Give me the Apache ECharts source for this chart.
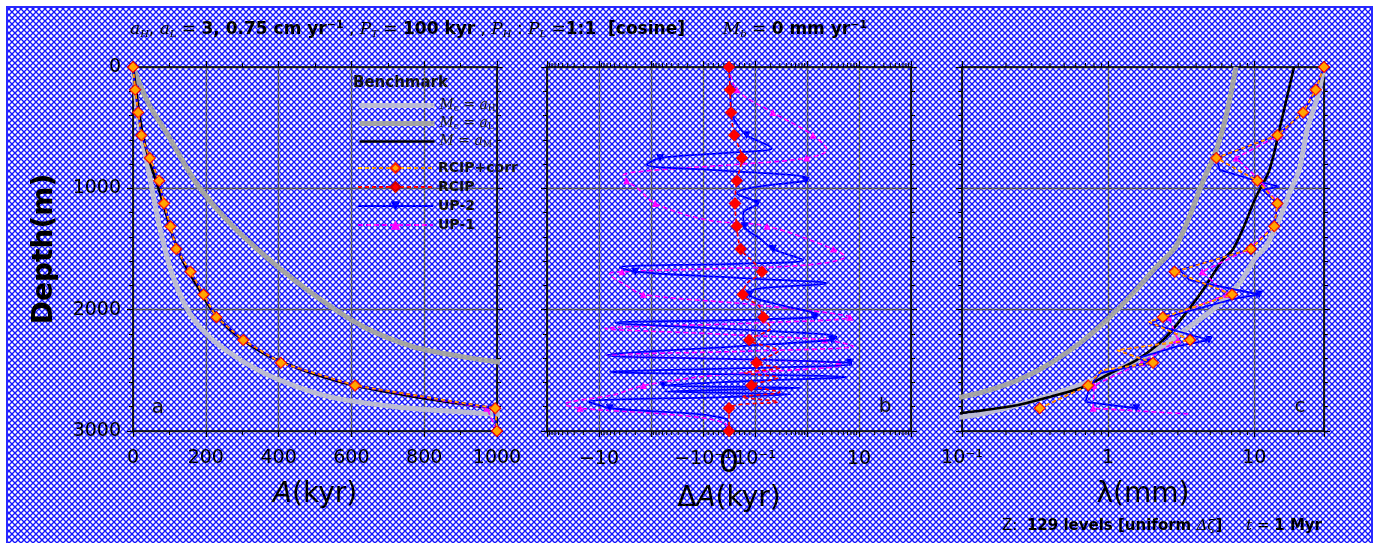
<!DOCTYPE html>
<html><head><meta charset="utf-8">
<script src="https://cdn.jsdelivr.net/npm/echarts@6/dist/echarts.min.js"></script>
<style>html,body{margin:0;padding:0;background:#fff}#c{width:1379px;height:543px}</style>
</head><body><div id="c"></div>
<script>
// ---------------- DATA ----------------
// Panel a: age A (kyr) vs depth (m)
const depthA = [0,187.5,375,562.5,750,937.5,1125,1312.5,1500,1687.5,1875,2062.5,2250,2437.5,2625,2812.5,3000];
const ageRcipCorr = [0,6,14,23,46,72,85,103,119,158,194,229,303,406,610,995,1000];
const ageRcip     = [0,6,14,23,46,72,85,103,119,158,194,229,303,406,610,995,1000];
const ageUp2      = [0,6,14,23,46,72,85,103,119,158,194,229,303,406,610,990,1000];
const ageUp1      = [0,6,14,23,46,72,85,103,119,158,194,229,303,406,608,972,1000];
const benchDepthAH = [0,490,765,1316,1728,2031,2251,2444,2582,2719,2802,2843,2862,2880];
const benchAgeAH   = [0,18,37,73,110,156,220,312,404,541,725,908,1000,1100];
const benchDepthAL = [0,297,572,958,1288,1591,1894,2141,2306,2389,2430,2460];
const benchAgeAL   = [0,42,98,174,266,376,505,633,771,908,1000,1100];
const benchDepthAM = [0,200,400,600,800,1000,1200,1400,1600,1800,2000,2200,2400,2600,2700,2812.5,2850];
const benchAgeAM   = [0,9,18,30,48,70,90,110,137,175,216,280,385,575,740,990,1100];

// Panel b: age error dA (kyr) vs depth (m), symlog axis
const rcipDeltaDepth = [0,187.5,375,562.5,750,937.5,1125,1312.5,1500,1600,1687.5,1780,1875,1970,2062.5,2150,2250,2340,2437.5,2480,2520,2560,2625,2680,2720,2760,2812.5,3000];
const rcipDelta      = [0,0.004,0.008,0.02,0.05,0.03,0.023,0.03,0.045,0.09,0.136,0.07,0.053,0.12,0.145,0.2,0.078,0.28,0.107,0.3,0.06,0.28,0.086,0.3,0.05,0.28,0,0];
const up2DeltaDepth = [0,187.5,375,470,562.5,669,700,750,806,850,915,937.5,990,1040,1125,1205,1312.5,1420,1500,1591,1620,1650,1687.5,1740,1783,1830,1875,1960,2045,2062.5,2085,2108,2165,2224,2250,2300,2375,2410,2437.5,2450,2480,2513,2535,2554,2590,2625,2645,2675,2697,2720,2760,2800,2812.5,2900,3000];
const up2Delta      = [0,0.005,0.01,0.03,0.068,0.21,0.05,-0.67,-1.2,-0.05,1.0,0.95,0.1,0.03,0.11,0.055,0.06,0.13,0.22,0.85,0.05,-4,-2,0.05,2.4,0.1,0.08,0.3,1.55,1.4,0.05,-4.9,0.05,3.7,3.0,0.05,-7,0.1,6.7,7.2,0.1,-6.2,0.1,5.8,0.05,-0.58,0.75,-0.55,0.5,-0.02,-16,-8,-6.2,-0.01,0];
const up1DeltaDepth = [0,187.5,375,562.5,683,750,800,860,895,937.5,1000,1125,1260,1312.5,1500,1563,1632,1665,1687.5,1705,1800,1875,1960,2062.5,2110,2155,2200,2250,2301,2340,2375,2410,2437.5,2455,2540,2625,2700,2780,2812.5,2870,2930,3000];
const up1Delta      = [0,0.03,0.22,1.3,2.4,0.98,0.05,-1.5,-3.4,-2.95,-1.8,-0.83,-0.086,0.17,3.2,5.4,0.98,-0.1,-3.6,-6.2,-3,-1.4,0.1,6.7,0.1,-7.6,-0.05,2.2,7.8,0.1,-7.1,0.05,4.0,4.6,-0.05,-1.4,-5,-45,-23,-0.3,-0.02,0];

// Panel c: layer thickness lambda (mm) vs depth (m), log axis
const benchLamDepthAM = [0,408,848,1068,1343,1508,1591,1839,2059,2251,2416,2526,2637,2719,2788,2829,2851,2900];
const benchLamAM      = [18.7,15.6,12.7,10.3,8.3,7.1,6.08,4.44,3.25,2.37,1.56,1.03,0.68,0.40,0.238,0.141,0.1,0.05];
const benchLamDepthAH = [0,250,517,848,1040,1260,1481,1563,1783,1976,2141,2334,2499,2609,2747,2857,2884,2950];
const benchLamAH      = [30,27,23,20.3,17.4,14.8,12,10.3,7.9,5.5,3.6,2.14,1.14,0.68,0.31,0.14,0.1,0.04];
const benchLamDepthAL = [0,408,683,958,1233,1481,1646,1866,2059,2251,2444,2582,2678,2719,2800];
const benchLamAL      = [7.5,6.4,5.5,4.4,3.6,2.9,2.14,1.48,1.03,0.68,0.40,0.24,0.14,0.1,0.05];
const lamCorrDepth = [0,187.5,375,562.5,750,937.5,1125,1312.5,1500,1687.5,1875,2062.5,2100,2250,2334,2437.5,2500,2625,2812.5];
const lamRcipCorr  = [30,26.3,21.6,14.4,5.5,10.5,14.4,13.7,9.5,2.85,7.05,2.37,1.9,3.64,1.15,2.03,0.9,0.73,0.34];
const lamRcip      = [30,26.3,21.6,14.4,5.5,10.5,14.4,13.7,9.5,2.85,7.05,2.37,1.9,3.64,1.15,2.03,0.9,0.73,0.34];
const lamUp2Depth = [0,187.5,375,562.5,680,750,848,937.5,985,1013,1125,1312.5,1500,1673,1756,1875,1907,2062.5,2113,2250,2300,2400,2437.5,2526,2625,2760,2812.5];
const lamUp2      = [30,26.3,21.6,14.4,8,5.5,5.8,10.3,14.8,11.4,14.4,13.7,9.5,3.08,3.6,10.8,7.5,2.5,1.92,4.9,3.0,1.6,1.9,0.88,0.75,0.7,1.56];
const lamUp1Depth = [0,187.5,375,562.5,750,937.5,1125,1312.5,1500,1687.5,1875,2062.5,2250,2437.5,2625,2812.5,2860];
const lamUp1      = [30,26,21.5,14.8,7.5,11,14.6,13.5,9.2,4.4,6.5,2.6,3.0,1.7,0.8,0.79,3.6];

const xTicksA = [0,200,400,600,800,1000];
const yTicks = [0,1000,2000,3000];
const symlogLabels = {1:'\u221210', 3:'\u221210\u207B\u00B9', 4:'10\u207B\u00B9', 6:'10'};
const logLabels = {'-1':'10\u207B\u00B9', '0':'1', '1':'10'};
const MARKER_STEP = 187.5;

// ---------------- HELPERS ----------------
const FONT = 'DejaVu Sans';
const LIN = 0.1; // symlog linear threshold
function symlog(v){ const a=Math.abs(v); const t = a<=LIN ? a/LIN*0.5 : 0.5+Math.log10(a/LIN); return 3.5 + Math.sign(v)*t; }
function zip(xs, ys, fx){ return xs.map((x,i)=>[fx?fx(x):x, ys[i]]); }
function isMarker(d){ const q=d/MARKER_STEP; return Math.abs(q-Math.round(q))<1e-6; }
const plain = (v)=>String(Math.round(v));

const STY = {
  'RCIP+corr': {symbol:'diamond', size:10, fill:'#ffa500', border:'#ff2000', bw:1, color:'#ffa500', w:1.6, dash:[4,3], z:6},
  'RCIP':      {symbol:'diamond', size:12, fill:'#ff0000', border:'#cc0000', bw:0.5, color:'#ff0000', w:1.6, dash:[4,3], z:5},
  'UP-2':      {symbol:'triangle', rot:180, size:8, fill:'#0000ff', border:'#0000ff', bw:0, color:'#0000ff', w:1.8, dash:'solid', z:4},
  'UP-1':      {symbol:'triangle', size:7, fill:'#ff00ff', border:'#ff00ff', bw:0, color:'#ff00ff', w:1.6, dash:[5,3], z:3}
};
function methodSeries(name, xi, yi, data){
  const s = STY[name];
  return {type:'line', name, xAxisIndex:xi, yAxisIndex:yi, data, symbol:s.symbol, symbolRotate:s.rot||0,
    showSymbol:true, showAllSymbol:true, symbolSize:(v)=>isMarker(v[1])?s.size:0,
    itemStyle:{color:s.fill, borderColor:s.border, borderWidth:s.bw},
    lineStyle:{color:s.color, width:s.w, type:s.dash}, z:s.z, clip:true, animation:false, silent:true};
}
const BENCH = {
  aH:{color:'rgba(190,190,208,0.95)', w:5},
  aL:{color:'#a3a3a3', w:5},
  aM:{color:'#000000', w:2.6}
};
function benchSeries(name, xi, yi, data){
  const b = BENCH[name];
  return {type:'line', name, xAxisIndex:xi, yAxisIndex:yi, data, symbol:'none', smooth:0.3,
    lineStyle:{color:b.color, width:b.w}, itemStyle:{color:b.color}, z:2, clip:true, animation:false, silent:true};
}
function tickSeries(xi, yi, values, len){
  return {type:'custom', xAxisIndex:xi, yAxisIndex:yi, data: values.map(v=>[v,0]), silent:true, clip:false, z:1,
    renderItem:(params, api)=>{
      const v = api.value(0);
      const p0 = api.coord([v,0]);
      const p1 = api.coord([v,3000]);
      return {type:'group', children:[
        {type:'line', shape:{x1:p0[0], y1:p0[1], x2:p0[0], y2:p0[1]-len}, style:{stroke:'#000', lineWidth:1}},
        {type:'line', shape:{x1:p1[0], y1:p1[1], x2:p1[0], y2:p1[1]+len}, style:{stroke:'#000', lineWidth:1}}
      ]};
    }};
}
// minor tick positions
const symMinor = [];
for (const sgn of [-1,1]) {
  for (let j=1;j<5;j++) symMinor.push(3.5 + sgn*j*0.1);
  for (let d=0; d<3; d++) for (let k=2;k<=9;k++) symMinor.push(3.5 + sgn*(0.5+d+Math.log10(k)));
}
const logMinor = [];
for (let d=-1; d<=1; d++) for (let k=2;k<=9;k++){ const v=k*Math.pow(10,d); if (v<30) logMinor.push(v); }

// axes
const axisLine = {show:true, onZero:false, lineStyle:{color:'#000', width:1.6}};
const majorTick = {show:true, inside:false, length:6, lineStyle:{color:'#000', width:1.2}};
const splitLine = {show:true, lineStyle:{color:'#5a5a5a', width:1.3}};
const labelStyle = {fontSize:19, color:'#000', fontFamily:FONT};
const nameStyle = {fontSize:28, color:'#000', fontFamily:FONT, rich:{i:{fontSize:28, fontStyle:'italic', fontFamily:'DejaVu Sans', color:'#000'}}};

function yPair(gi, withName){
  const base = {type:'value', gridIndex:gi, min:yTicks[0], max:yTicks[yTicks.length-1], interval:yTicks[1]-yTicks[0], inverse:true,
    axisLine, axisTick:majorTick, minorTick:{show:true, splitNumber:5, length:4, lineStyle:{color:'#000', width:1}}};
  const left = Object.assign({}, base, {position:'left', splitLine,
    axisLabel:Object.assign({show:withName, margin:12, formatter:plain}, labelStyle)});
  if (withName) Object.assign(left, {name:'Depth(m)', nameLocation:'middle', nameGap:74, nameRotate:90,
    nameTextStyle:{fontSize:28, fontWeight:'bold', color:'#000', fontFamily:FONT}});
  const right = Object.assign({}, base, {position:'right', splitLine:{show:false}, axisLabel:{show:false}});
  return [left, right];
}

const xAxes = [
  // panel a bottom
  {type:'value', gridIndex:0, position:'bottom', min:xTicksA[0], max:xTicksA[xTicksA.length-1], interval:xTicksA[1]-xTicksA[0],
   axisLine, axisTick:majorTick, minorTick:{show:true, splitNumber:2, length:4, lineStyle:{color:'#000', width:1}},
   splitLine, axisLabel:Object.assign({margin:18, formatter:plain}, labelStyle),
   name:'{i|A}(kyr)', nameLocation:'middle', nameGap:50, nameTextStyle:nameStyle},
  // panel a top
  {type:'value', gridIndex:0, position:'top', min:xTicksA[0], max:xTicksA[xTicksA.length-1], interval:xTicksA[1]-xTicksA[0],
   axisLine, axisTick:majorTick, minorTick:{show:true, splitNumber:2, length:4, lineStyle:{color:'#000', width:1}},
   splitLine:{show:false}, axisLabel:{show:false}},
  // panel b bottom (symlog, units shifted by 3.5)
  {type:'value', gridIndex:1, position:'bottom', min:0, max:7, interval:1,
   axisLine, axisTick:majorTick, splitLine,
   axisLabel:Object.assign({margin:19, formatter:(v)=>symlogLabels[Math.round(v)]||''}, labelStyle),
   name:'\u0394{i|A}(kyr)', nameLocation:'middle', nameGap:54, nameTextStyle:nameStyle},
  // panel b top
  {type:'value', gridIndex:1, position:'top', min:0, max:7, interval:1,
   axisLine, axisTick:majorTick, splitLine:{show:false}, axisLabel:{show:false}},
  // panel b zero label
  {type:'value', gridIndex:1, position:'bottom', min:0, max:7, interval:3.5,
   axisLine:{show:false, onZero:false}, axisTick:{show:false}, splitLine:{show:false},
   axisLabel:{margin:17, fontSize:32, color:'#000', fontFamily:FONT, formatter:(v)=>Math.abs(v-3.5)<1e-6?'0':''}},
  // panel c bottom (log)
  {type:'log', logBase:10, gridIndex:2, position:'bottom', min:0.1, max:30,
   axisLine, axisTick:majorTick, splitLine,
   axisLabel:Object.assign({margin:18, formatter:(v)=>{const e=Math.log10(v); const r=Math.round(e); return Math.abs(e-r)<1e-6 ? (logLabels[String(r)]||'') : '';}}, labelStyle),
   name:'\u03BB(mm)', nameLocation:'middle', nameGap:50, nameTextStyle:nameStyle},
  // panel c top
  {type:'log', logBase:10, gridIndex:2, position:'top', min:0.1, max:30,
   axisLine, axisTick:majorTick, splitLine:{show:false}, axisLabel:{show:false}}
];
const yAxes = [].concat(yPair(0,true), yPair(1,false), yPair(2,false));

// ---------------- SERIES ----------------
const series = [
  // panel a
  benchSeries('aH', 0, 0, zip(benchAgeAH, benchDepthAH)),
  benchSeries('aL', 0, 0, zip(benchAgeAL, benchDepthAL)),
  benchSeries('aM', 0, 0, zip(benchAgeAM, benchDepthAM)),
  methodSeries('UP-1', 0, 0, zip(ageUp1, depthA)),
  methodSeries('UP-2', 0, 0, zip(ageUp2, depthA)),
  methodSeries('RCIP', 0, 0, zip(ageRcip, depthA)),
  methodSeries('RCIP+corr', 0, 0, zip(ageRcipCorr, depthA)),
  // panel b
  Object.assign(methodSeries('UP-1', 2, 2, zip(up1Delta, up1DeltaDepth, symlog)), {smooth:0.35}),
  Object.assign(methodSeries('UP-2', 2, 2, zip(up2Delta, up2DeltaDepth, symlog)), {smooth:0.35}),
  Object.assign(methodSeries('RCIP', 2, 2, zip(rcipDelta, rcipDeltaDepth, symlog)), {smooth:0.3}),
  tickSeries(2, 2, symMinor, 4),
  // panel c
  benchSeries('aH', 5, 4, zip(benchLamAH, benchLamDepthAH)),
  benchSeries('aL', 5, 4, zip(benchLamAL, benchLamDepthAL)),
  benchSeries('aM', 5, 4, zip(benchLamAM, benchLamDepthAM)),
  methodSeries('UP-1', 5, 4, zip(lamUp1, lamUp1Depth)),
  methodSeries('UP-2', 5, 4, zip(lamUp2, lamUp2Depth)),
  methodSeries('RCIP', 5, 4, zip(lamRcip, lamCorrDepth)),
  methodSeries('RCIP+corr', 5, 4, zip(lamRcipCorr, lamCorrDepth)),
  tickSeries(5, 4, logMinor, 4)
];

// ---------------- BACKGROUND PATTERN ----------------
const pc = document.createElement('canvas'); pc.width = 6; pc.height = 6;
const g = pc.getContext('2d');
g.fillStyle = '#ffffff'; g.fillRect(0,0,6,6);
g.strokeStyle = '#1414ff'; g.lineWidth = 1.35;
for (const dx of [-6,0,6]) { g.beginPath(); g.moveTo(dx,0); g.lineTo(dx+6,6); g.moveTo(dx+6,0); g.lineTo(dx,6); g.stroke(); }

const titleRich = {
  i:{fontFamily:'DejaVu Serif', fontStyle:'italic', fontSize:17, color:'#444'},
  s:{fontFamily:'DejaVu Serif', fontStyle:'italic', fontSize:10, color:'#444', padding:[8,0,0,0]},
  n:{fontFamily:FONT, fontSize:17, color:'#333'},
  b:{fontFamily:FONT, fontSize:17, fontWeight:'bold', color:'#111'},
  p:{fontFamily:FONT, fontSize:11, fontWeight:'bold', color:'#111', padding:[0,0,9,0]}
};

const benchLegendLine = (n)=>({name:n, lineStyle:{width:BENCH[n].w, color:BENCH[n].color}, itemStyle:{opacity:0}});

const chart = echarts.init(document.getElementById('c'), null, {renderer:'canvas', width:1379, height:543});
chart.setOption({
  animation:false,
  backgroundColor:'#ffffff',
  grid:[
    {left:133, top:67, width:364, height:364, outerBoundsMode:'none'},
    {left:547, top:67, width:364, height:364, outerBoundsMode:'none'},
    {left:962, top:67, width:362, height:364, outerBoundsMode:'none'}
  ],
  xAxis:xAxes,
  yAxis:yAxes,
  legend:[
    {data:['aH','aL','aM'].map(benchLegendLine), left:352, top:93, orient:'vertical', itemWidth:75, itemHeight:10, itemGap:3, selectedMode:false,
     itemStyle:{opacity:0},
     formatter:(n)=>({aH:'{i|M}{s|c} = {i|a}{s|H}', aL:'{i|M}{s|c} = {i|a}{s|L}', aM:'{i|M} = {i|a}{s|M}'})[n],
     textStyle:{fontSize:14, color:'#222', fontFamily:'DejaVu Serif', lineHeight:15,
       rich:{i:{fontSize:14, fontStyle:'italic', color:'#222', fontFamily:'DejaVu Serif', lineHeight:15},
             s:{fontSize:9, color:'#222', fontFamily:'DejaVu Serif', lineHeight:15, verticalAlign:'bottom'}}}},
    {data:['RCIP+corr','RCIP','UP-2','UP-1'], left:352, top:156, orient:'vertical', itemWidth:75, itemHeight:12, itemGap:5, selectedMode:false,
     textStyle:{fontSize:14, fontWeight:'bold', color:'#111', fontFamily:FONT}}
  ],
  graphic:[
    {type:'rect', z:-100, silent:true, shape:{x:7, y:7, width:1365, height:540},
     style:{fill:{image:pc, repeat:'repeat'}, stroke:'#2a2aff', lineWidth:2}},
    {type:'text', silent:true, style:{x:353, y:83, text:'Benchmark', font:'bold 15px "DejaVu Sans"', fill:'#111', textVerticalAlign:'middle', verticalAlign:'middle'}},
    {type:'text', silent:true, style:{x:158, y:408, text:'a', font:'20px "DejaVu Sans"', fill:'#111', textAlign:'center', align:'center', textVerticalAlign:'middle', verticalAlign:'middle'}},
    {type:'text', silent:true, style:{x:885, y:407, text:'b', font:'20px "DejaVu Sans"', fill:'#111', textAlign:'center', align:'center', textVerticalAlign:'middle', verticalAlign:'middle'}},
    {type:'text', silent:true, style:{x:1300, y:407, text:'c', font:'20px "DejaVu Sans"', fill:'#111', textAlign:'center', align:'center', textVerticalAlign:'middle', verticalAlign:'middle'}},
    {type:'text', silent:true, style:{x:130, y:30, textVerticalAlign:'middle', verticalAlign:'middle',
      text:'{i|a}{s|H}{n|, }{i|a}{s|L}{n| = }{b|3, 0.75 cm yr}{p|\u22121}{n| , }{i|P}{s|T}{n| = }{b|100 kyr}{n| , }{i|P}{s|H}{n| : }{i|P}{s|L}{n| =}{b|1:1  [cosine]}{n|       }{i|M}{s|b}{n| = }{b|0 mm yr}{p|\u22121}',
      rich:titleRich}},
    {type:'text', silent:true, style:{x:1322, y:526, textAlign:'right', align:'right', textVerticalAlign:'middle', verticalAlign:'middle',
      text:'{n|Z:  }{b|129 levels [uniform }{i|\u0394\u03B6}{b|]}{n|     }{i|t}{n| = }{b|1 Myr}',
      rich:{n:{fontFamily:FONT, fontSize:15, color:'#333'}, b:{fontFamily:FONT, fontSize:15, fontWeight:'bold', color:'#222'},
            i:{fontFamily:'DejaVu Serif', fontStyle:'italic', fontSize:15, color:'#444'}}}}
  ],
  series
});
</script></body></html>
